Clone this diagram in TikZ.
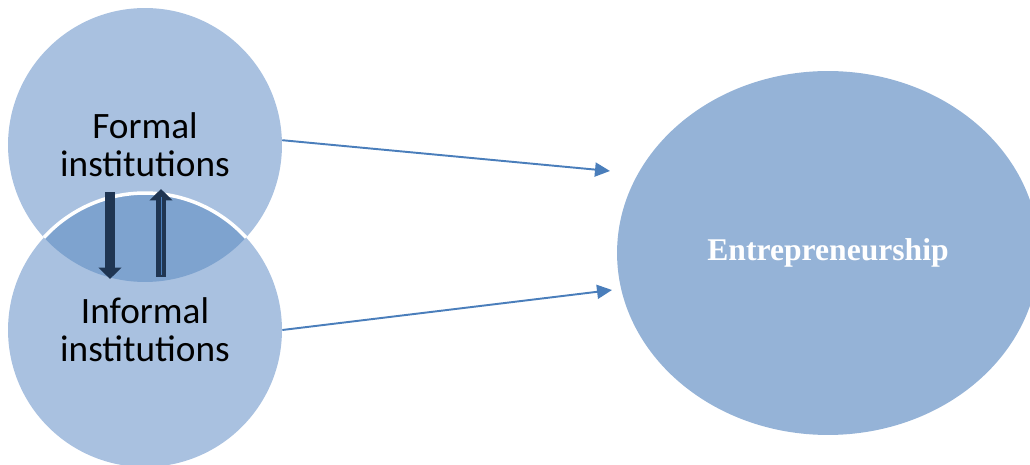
\documentclass[tikz,border=0pt]{standalone}
\usepackage{fontspec}
\setmainfont{Carlito}
\newfontfamily\serifbold{Liberation Serif}
\usetikzlibrary{shapes.geometric,arrows.meta}
\definecolor{lightblue}{RGB}{169,193,224}
\definecolor{midblue}{RGB}{126,163,207}
\definecolor{ovalblue}{RGB}{149,179,215}
\definecolor{linkblue}{RGB}{74,126,187}
\definecolor{navy}{RGB}{31,53,82}
\begin{document}
\begin{tikzpicture}[x=0.02cm,y=-0.02cm,
  inst/.style={circle,fill=lightblue,minimum size=5.48cm,inner sep=0pt},
  label/.style={align=center,font=\fontsize{21.2}{21.8}\selectfont},
  link/.style={draw=linkblue,line width=1.1pt,-{Triangle[length=0.3cm,width=0.28cm]}},
  fat/.style={draw=navy,line width=0.21cm,-{Triangle[length=0.23cm,width=0.45cm]}}]
\useasboundingbox (0,0) rectangle (1030,465);
\node[inst] (formal) at (145,145) {};
\node[inst] (informal) at (145,330) {};
\begin{scope}
\clip (145,145) circle[radius=2.74cm];
\fill[midblue] (145,330) circle[radius=2.74cm];
\draw[white,line width=2pt] (145,330) circle[radius=2.74cm];
\end{scope}
\node[label] at (formal) {Formal\\institutions};
\node[label] at (informal) {Informal\\institutions};
\node[ellipse,fill=ovalblue,minimum width=8.44cm,minimum height=7.28cm,
  font=\serifbold\bfseries\fontsize{18}{20}\selectfont,text=white] (entre) at (828,253) {Entrepreneurship};
\coordinate (in1) at (610,171);
\coordinate (in2) at (612,290);
\draw[link] (formal.2) -- (in1);
\draw[link] (informal.east) -- (in2);
\coordinate (d1) at (110,192);
\coordinate (d2) at (110,279);
\coordinate (u1) at (161,277);
\coordinate (u2) at (161,189);
\draw[fat] (d1) -- (d2);
\draw[fat] (u1) -- (u2);
\draw[linkblue,line width=0.5pt] (161,275) -- (161,197);
\end{tikzpicture}
\end{document}
